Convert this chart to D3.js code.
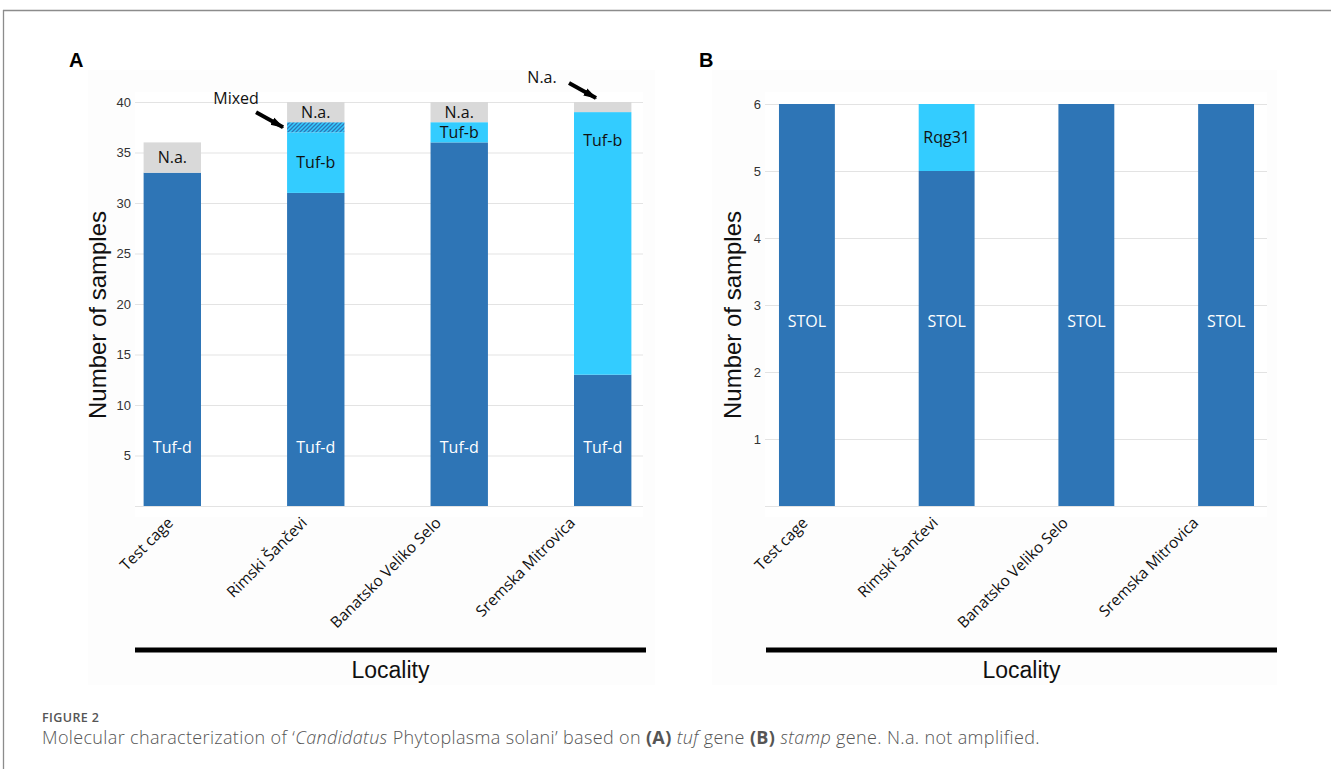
<!DOCTYPE html>
<html>
<head>
<meta charset="utf-8">
<script src="https://cdn.jsdelivr.net/npm/d3@7"></script>
<style>
  html, body { margin: 0; padding: 0; background: #ffffff; }
  svg { display: block; }
</style>
</head>
<body>
<svg id="fig" width="1331" height="769"></svg>
<script>
// Localities shared by both panels
const categories = ["Test cage", "Rimski Šančevi", "Banatsko Veliko Selo", "Sremska Mitrovica"];

// Panel A: tuf gene types (stack order bottom to top)
const tufD  = [33, 31, 36, 13];
const tufB  = [0, 6, 2, 26];
const mixed = [0, 1, 0, 0];
const naA   = [3, 2, 2, 1];
const ticksA = [5, 10, 15, 20, 25, 30, 35, 40];

// Panel B: stamp gene types
const stol  = [6, 5, 6, 6];
const rqg31 = [0, 1, 0, 0];
const ticksB = [1, 2, 3, 4, 5, 6];

const DARK = "#2e75b6", LIGHT = "#33ccff", GREY = "#d9d9d9";
const LABEL_FONT = "Open Sans, Noto Sans, sans-serif";
const AXIS_FONT = "Liberation Sans, Arial, sans-serif";
const svg = d3.select("#fig");

// page frame
svg.append("line").attr("x1", 3).attr("x2", 1331).attr("y1", 10.5).attr("y2", 10.5)
  .attr("stroke", "#8c8c8c").attr("stroke-width", 1.3);
svg.append("line").attr("x1", 3.5).attr("x2", 3.5).attr("y1", 10).attr("y2", 769)
  .attr("stroke", "#8c8c8c").attr("stroke-width", 1.3);

// hatch for mixed infections
const defs = svg.append("defs");
const pat = defs.append("pattern").attr("id", "hatch").attr("patternUnits", "userSpaceOnUse")
  .attr("width", 4).attr("height", 4);
pat.append("rect").attr("width", 4).attr("height", 4).attr("fill", LIGHT);
pat.append("path").attr("d", "M-1,1 l2,-2 M0,4 l4,-4 M3,5 l2,-2")
  .attr("stroke", DARK).attr("stroke-width", 1.3);

function panel(opts) {
  const g = svg.append("g");
  // panel backdrop
  g.append("rect").attr("x", opts.bg[0]).attr("y", 70).attr("width", opts.bg[1] - opts.bg[0])
    .attr("height", 615).attr("fill", "#fdfdfd");
  g.append("rect").attr("x", opts.plot[0]).attr("y", 92).attr("width", opts.plot[1] - opts.plot[0])
    .attr("height", 425).attr("fill", "#ffffff");

  const x = d3.scaleBand().domain(categories).range(opts.xr)
    .paddingInner(0.6).paddingOuter(opts.po);
  const y = d3.scaleLinear().domain([0, opts.max]).range([506, opts.top]);

  // gridlines
  g.selectAll(".grid").data([0].concat(opts.ticks)).join("line")
    .attr("x1", opts.plot[0]).attr("x2", opts.plot[1])
    .attr("y1", d => y(d) + 0.5).attr("y2", d => y(d) + 0.5)
    .attr("stroke", "#e3e3e3").attr("stroke-width", 1);

  // y tick labels
  const yAxis = d3.axisLeft(y).tickValues(opts.ticks).tickFormat(d3.format("d"))
    .tickSize(0).tickPadding(0);
  const ya = g.append("g").attr("transform", `translate(${opts.plot[0] - 4},0)`).call(yAxis);
  ya.select(".domain").remove();
  ya.selectAll("text").attr("font-family", AXIS_FONT)
    .attr("font-size", 13).attr("fill", "#333");

  // stacked bars
  opts.series.forEach((s, si) => {
    categories.forEach((c, i) => {
      const base = d3.sum(opts.series.slice(0, si), p => p.values[i]);
      const v = s.values[i];
      if (!v) return;
      g.append("rect").attr("x", x(c)).attr("width", x.bandwidth())
        .attr("y", y(base + v)).attr("height", y(base) - y(base + v))
        .attr("fill", s.fill);
      if (s.label) {
        let ly;
        if (s.pos === "base") ly = y(opts.baseLabel);
        else if (v > 10) ly = y(base + v - 2.8);
        else ly = y(base + v / 2);
        g.append("text").attr("x", x(c) + x.bandwidth() / 2).attr("y", ly)
          .attr("dy", "0.35em").attr("text-anchor", "middle")
          .attr("font-family", LABEL_FONT).attr("font-size", 16)
          .attr("fill", s.textFill).text(s.label);
      }
    });
  });

  // rotated category labels, each shifted a little further left along the axis
  categories.forEach((c, i) => {
    const ex = x(c) + x.bandwidth() / 2 - (2 + 9.5 * i);
    g.append("text")
      .attr("transform", `translate(${ex},${520}) rotate(-45)`)
      .attr("text-anchor", "end").attr("dy", "0.35em")
      .attr("font-family", LABEL_FONT).attr("font-size", 15.5)
      .attr("fill", "#111").text(c);
  });

  // y title
  g.append("text")
    .attr("transform", `translate(${opts.ytX},${315}) rotate(-90)`)
    .attr("text-anchor", "middle")
    .attr("font-family", AXIS_FONT).attr("font-size", 24)
    .attr("fill", "#111").text("Number of samples");

  // locality bar and title
  g.append("line").attr("x1", opts.rule[0]).attr("x2", opts.rule[1]).attr("y1", 650).attr("y2", 650)
    .attr("stroke", "#000").attr("stroke-width", 5);
  g.append("text").attr("x", (opts.rule[0] + opts.rule[1]) / 2).attr("y", 678)
    .attr("text-anchor", "middle")
    .attr("font-family", AXIS_FONT).attr("font-size", 23)
    .attr("fill", "#111").text("Locality");

  // panel letter
  g.append("text").attr("x", opts.letterX).attr("y", 67)
    .attr("font-family", AXIS_FONT).attr("font-size", 20)
    .attr("font-weight", "bold").attr("fill", "#000").text(opts.letter);

  return { g, x, y };
}

const A = panel({
  letter: "A", letterX: 69, bg: [88, 655], plot: [135, 643], xr: [135, 640], po: 0.06,
  max: 40, top: 102, ticks: ticksA, ytX: 106, rule: [135, 646], baseLabel: 5.85,
  series: [
    { values: tufD, fill: DARK, label: "Tuf-d", textFill: "#ffffff", pos: "base" },
    { values: tufB, fill: LIGHT, label: "Tuf-b", textFill: "#111" },
    { values: mixed, fill: "url(#hatch)" },
    { values: naA, fill: GREY }
  ]
});

// N.a. labels inside grey caps tall enough to hold text
categories.forEach((c, i) => {
  if (naA[i] < 2) return;
  const base = tufD[i] + tufB[i] + mixed[i];
  A.g.append("text").attr("x", A.x(c) + A.x.bandwidth() / 2).attr("y", A.y(base + naA[i] / 2))
    .attr("dy", "0.35em").attr("text-anchor", "middle")
    .attr("font-family", LABEL_FONT).attr("font-size", 16)
    .attr("fill", "#111").text("N.a.");
});

// arrow annotations
defs.append("marker").attr("id", "head").attr("viewBox", "0 0 10 6").attr("refX", 9).attr("refY", 3)
  .attr("markerWidth", 3.4).attr("markerHeight", 2.6).attr("orient", "auto")
  .attr("markerUnits", "strokeWidth")
  .append("path").attr("d", "M0,0 L10,3 L0,6 Z").attr("fill", "#000");

function arrow(tx, ty, label, lx, ly) {
  A.g.append("line").attr("x1", tx - 27).attr("y1", ty - 15).attr("x2", tx).attr("y2", ty)
    .attr("stroke", "#000").attr("stroke-width", 4).attr("marker-end", "url(#head)");
  A.g.append("text").attr("x", lx).attr("y", ly).attr("text-anchor", "middle")
    .attr("font-family", LABEL_FONT).attr("font-size", 16)
    .attr("fill", "#111").text(label);
}
const rim = categories[1], srem = categories[3];
arrow(A.x(rim) - 4, A.y(37.5), "Mixed", A.x(rim) - 51, A.y(39.5) - 3);
arrow(A.x(srem) + 22, A.y(40) - 4, "N.a.", A.x(srem) - 32, A.y(40) - 19);

const B = panel({
  letter: "B", letterX: 699, bg: [712, 1277], plot: [765, 1267], xr: [765, 1268], po: 0.1,
  max: 6, top: 104, ticks: ticksB, ytX: 741, rule: [766, 1277], baseLabel: 2.75,
  series: [
    { values: stol, fill: DARK, label: "STOL", textFill: "#ffffff", pos: "base" },
    { values: rqg31, fill: LIGHT, label: "Rqg31", textFill: "#111" }
  ]
});

// caption
const cap = svg.append("g").attr("font-family", LABEL_FONT);
cap.append("text").attr("x", 42).attr("y", 722).attr("font-size", 12.5).attr("font-weight", 600)
  .attr("letter-spacing", 0.4).attr("fill", "#555").text("FIGURE 2");
const line = cap.append("text").attr("x", 42).attr("y", 744).attr("font-size", 18)
  .attr("font-weight", 300).attr("letter-spacing", 0.35).attr("fill", "#555");
[["Molecular characterization of ‘"], ["Candidatus", "i"], [" Phytoplasma solani’ based on "],
 ["(A)", "b"], [" "], ["tuf", "i"], [" gene "], ["(B)", "b"], [" "], ["stamp", "i"],
 [" gene. N.a. not amplified."]].forEach(([t, s]) => {
  const ts = line.append("tspan").text(t);
  if (s === "i") ts.attr("font-style", "italic");
  if (s === "b") ts.attr("font-weight", 700);
});
</script>
</body>
</html>
